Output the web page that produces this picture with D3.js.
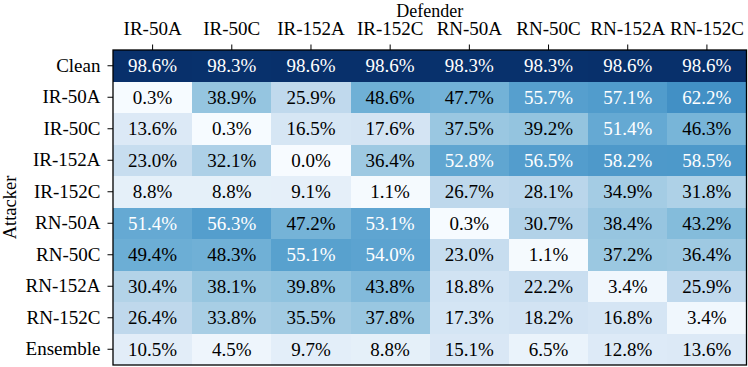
<!DOCTYPE html>
<html>
<head>
<meta charset="utf-8">
<script src="https://cdn.jsdelivr.net/npm/d3@7"></script>
<style>
  body { margin: 0; background: #fff; }
  svg { display: block; }
</style>
</head>
<body>
<div id="chart"></div>
<script>
  // defenders along the top, attackers down the side
  const defenders = ["IR-50A", "IR-50C", "IR-152A", "IR-152C", "RN-50A", "RN-50C", "RN-152A", "RN-152C"];
  const attackers = ["Clean", "IR-50A", "IR-50C", "IR-152A", "IR-152C", "RN-50A", "RN-50C", "RN-152A", "RN-152C", "Ensemble"];

  // accuracy (%) per attacker row, one value per defender
  const clean    = [98.6, 98.3, 98.6, 98.6, 98.3, 98.3, 98.6, 98.6];
  const ir50a    = [0.3, 38.9, 25.9, 48.6, 47.7, 55.7, 57.1, 62.2];
  const ir50c    = [13.6, 0.3, 16.5, 17.6, 37.5, 39.2, 51.4, 46.3];
  const ir152a   = [23.0, 32.1, 0.0, 36.4, 52.8, 56.5, 58.2, 58.5];
  const ir152c   = [8.8, 8.8, 9.1, 1.1, 26.7, 28.1, 34.9, 31.8];
  const rn50a    = [51.4, 56.3, 47.2, 53.1, 0.3, 30.7, 38.4, 43.2];
  const rn50c    = [49.4, 48.3, 55.1, 54.0, 23.0, 1.1, 37.2, 36.4];
  const rn152a   = [30.4, 38.1, 39.8, 43.8, 18.8, 22.2, 3.4, 25.9];
  const rn152c   = [26.4, 33.8, 35.5, 37.8, 17.3, 18.2, 16.8, 3.4];
  const ensemble = [10.5, 4.5, 9.7, 8.8, 15.1, 6.5, 12.8, 13.6];

  const rows = [clean, ir50a, ir50c, ir152a, ir152c, rn50a, rn50c, rn152a, rn152c, ensemble];

  const width = 748, height = 367;
  const margin = {top: 50, right: 1.5, bottom: 2, left: 113};
  const font = "'Liberation Serif', 'Times New Roman', serif";
  const fs = 19;

  const cells = [];
  rows.forEach((r, i) => r.forEach((v, j) => cells.push({row: i, col: defenders[j], v: v})));

  const x = d3.scaleBand().domain(defenders).range([margin.left, width - margin.right]);
  const y = d3.scaleBand().domain(d3.range(attackers.length)).range([margin.top, height - margin.bottom]);
  const color = d3.scaleSequential(d3.interpolateBlues).domain([0, 98.6]);

  const svg = d3.select("#chart").append("svg")
      .attr("width", width)
      .attr("height", height)
      .attr("font-family", font)
      .attr("font-size", fs);

  svg.append("g")
    .selectAll("rect")
    .data(cells)
    .join("rect")
      .attr("x", d => x(d.col))
      .attr("y", d => y(d.row))
      .attr("width", x.bandwidth())
      .attr("height", y.bandwidth())
      .attr("fill", d => color(d.v))
      .attr("shape-rendering", "crispEdges");

  svg.append("g")
    .selectAll("text")
    .data(cells)
    .join("text")
      .attr("x", d => x(d.col) + x.bandwidth() / 2)
      .attr("y", d => y(d.row) + y.bandwidth() / 2)
      .attr("dy", "0.35em")
      .attr("text-anchor", "middle")
      .attr("fill", d => d.v > 50 ? "#fff" : "#000")
      .text(d => d.v.toFixed(1) + "%");

  // top axis (defenders)
  const xAxis = svg.append("g")
      .attr("transform", `translate(0,${margin.top})`)
      .call(d3.axisTop(x).tickSize(5.5).tickPadding(10));
  xAxis.select(".domain").remove();

  // left axis (attackers)
  const yAxis = svg.append("g")
      .attr("transform", `translate(${margin.left},0)`)
      .call(d3.axisLeft(y).tickSize(5.5).tickPadding(7).tickFormat(i => attackers[i]));
  yAxis.select(".domain").remove();

  svg.selectAll(".tick text")
      .attr("font-family", font)
      .attr("font-size", fs)
      .attr("fill", "#000");
  svg.selectAll(".tick line").attr("stroke", "#000").attr("stroke-width", 1);

  // frame
  svg.append("rect")
      .attr("x", margin.left)
      .attr("y", margin.top)
      .attr("width", width - margin.right - margin.left)
      .attr("height", height - margin.bottom - margin.top)
      .attr("fill", "none")
      .attr("stroke", "#000")
      .attr("stroke-width", 1.3);

  svg.append("text")
      .attr("x", (margin.left + width - margin.right) / 2)
      .attr("y", 16.5)
      .attr("font-size", 18)
      .attr("text-anchor", "middle")
      .text("Defender");

  svg.append("text")
      .attr("transform", `translate(16,${(margin.top + height - margin.bottom) / 2}) rotate(-90)`)
      .attr("font-size", 18.5)
      .attr("text-anchor", "middle")
      .text("Attacker");
</script>
</body>
</html>
